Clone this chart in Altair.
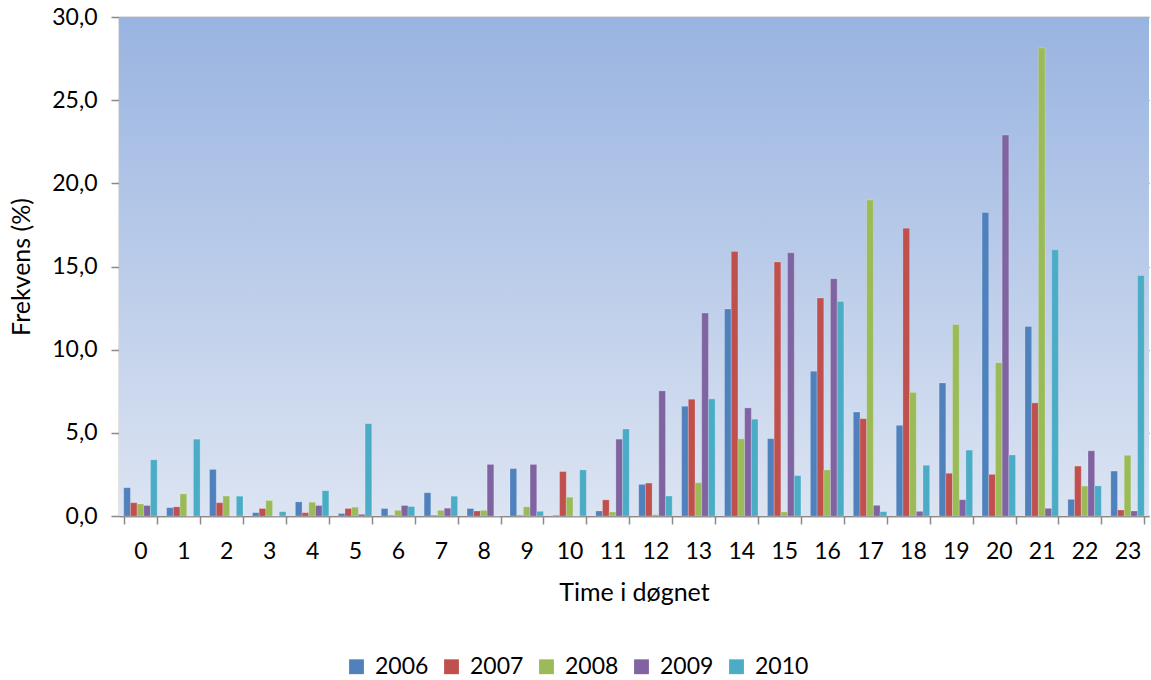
import altair as alt
import pandas as pd

# Hour of day (0-23) and frequency (%) per year
hours = list(range(24))
years = ["2006", "2007", "2008", "2009", "2010"]

v2006 = [1.7, 0.5, 2.8, 0.2, 0.85, 0.15, 0.45, 1.4, 0.45, 2.85, 0.04, 0.3,
         1.9, 6.6, 12.45, 4.65, 8.7, 6.25, 5.45, 8.0, 18.25, 11.4, 1.0, 2.7]
v2007 = [0.8, 0.55, 0.8, 0.45, 0.2, 0.45, 0.04, 0.04, 0.3, 0.04, 2.67, 0.97,
         1.98, 7.02, 15.9, 15.27, 13.1, 5.85, 17.3, 2.57, 2.5, 6.8, 3.0, 0.36]
v2008 = [0.72, 1.33, 1.2, 0.93, 0.83, 0.53, 0.34, 0.34, 0.34, 0.55, 1.13, 0.24,
         0.08, 2.0, 4.64, 0.24, 2.77, 19.0, 7.43, 11.52, 9.22, 28.15, 1.8, 3.65]
v2009 = [0.63, 0.0, 0.0, 0.0, 0.63, 0.1, 0.63, 0.47, 3.1, 3.1, 0.0, 4.62,
         7.52, 12.2, 6.5, 15.82, 14.27, 0.64, 0.28, 0.98, 22.9, 0.46, 3.92, 0.3]
v2010 = [3.38, 4.62, 1.19, 0.26, 1.52, 5.55, 0.57, 1.19, 0.0, 0.28, 2.77, 5.23,
         1.2, 7.04, 5.82, 2.43, 12.9, 0.26, 3.05, 3.96, 3.67, 16.0, 1.81, 14.46]

series = [v2006, v2007, v2008, v2009, v2010]
colors = ["#4f81bd", "#c0504d", "#9bbb59", "#8064a2", "#4bacc6"]

rows = []
for year, vals in zip(years, series):
    for h, v in zip(hours, vals):
        rows.append({"hour": h, "year": year, "value": v})
df = pd.DataFrame(rows)

W, H = 1030, 499
FONT = "Lato"

# Blue gradient plot background
background = alt.Chart(pd.DataFrame({"a": [0]})).mark_rect(
    color=alt.Gradient(
        gradient="linear",
        stops=[alt.GradientStop(color="#99b4e1", offset=0),
               alt.GradientStop(color="#dce4f2", offset=1)],
        x1=0, x2=0, y1=0, y2=1,
    )
).encode(x=alt.value(0), x2=alt.value(W), y=alt.value(0), y2=alt.value(H))

bars = alt.Chart(df).mark_bar(stroke="#ffffff", strokeOpacity=0.35, strokeWidth=0.6).encode(
    x=alt.X(
        "hour:O",
        title="Time i døgnet",
        scale=alt.Scale(paddingInner=0.22, paddingOuter=0.11),
        axis=alt.Axis(
            labelAngle=0, tickBand="extent", grid=False,
            tickSize=8, labelPadding=16, titlePadding=17,
        ),
    ),
    xOffset=alt.XOffset("year:N", sort=years, scale=alt.Scale(paddingInner=0)),
    y=alt.Y(
        "value:Q",
        title="Frekvens (%)",
        scale=alt.Scale(domain=[0, 30], nice=False),
        axis=alt.Axis(
            values=[0, 5, 10, 15, 20, 25, 30],
            labelExpr="replace(format(datum.value, '.1f'), '.', ',')",
            tickSize=8, labelPadding=14, titlePadding=17,
        ),
    ),
    color=alt.Color(
        "year:N",
        sort=years,
        scale=alt.Scale(domain=years, range=colors),
        legend=alt.Legend(
            title=None, orient="none", direction="horizontal",
            legendX=226, legendY=638, symbolType="square", symbolSize=220,
            symbolStrokeWidth=0, labelOffset=7, columnPadding=11,
        ),
    ),
)

chart = alt.layer(background, bars).properties(
    width=W, height=H,
    padding={"left": 119, "top": 17, "right": 2, "bottom": 164},
    autosize=alt.AutoSizeParams(type="none"),
    background="#ffffff",
).configure_view(
    stroke=None,
).configure_axis(
    labelFont=FONT, titleFont=FONT, labelFontSize=23, titleFontSize=25,
    labelColor="#000000", titleColor="#000000",
    titleFontWeight="normal",
    domainColor="#8a8a8a", domainWidth=1.5,
    tickColor="#8a8a8a", tickWidth=1.5,
    gridColor="#8a8a8a", gridWidth=1.6,
).configure_legend(
    labelFont=FONT, labelFontSize=23, labelColor="#000000",
)

chart.save("out.html", embed_options={"renderer": "svg", "actions": False})
